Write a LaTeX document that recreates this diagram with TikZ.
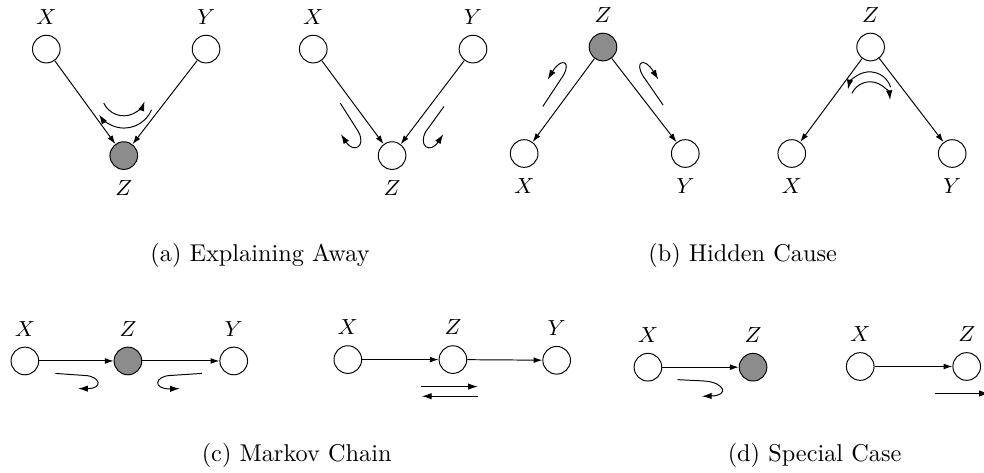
\documentclass[tikz,border=0pt]{standalone}
\usepackage{xcolor}
\usepackage{tikz}
\usetikzlibrary{arrows.meta}

\begin{document}
\begin{tikzpicture}[
    font=\small,
    label distance=0.7pt,
    nodo/.style={draw, circle, minimum size=4mm, inner sep=0pt},
    observado/.style={nodo, fill=black!45},
    flecha/.style={-{Latex[length=3.6pt, width=2.4pt]}},
    flujo/.style={-{Latex[length=4pt, width=2.6pt]}},
    titulo/.style={font=\normalsize}
  ]
  \useasboundingbox (0,0) rectangle (14.23,6.83);
  \clip (0,0) rectangle (14.23,6.83);

  % --- (a) Z observado ---
  \node[nodo, label=above:$X$] (xa) at (0.67,6.12) {};
  \node[nodo, label=above:$Y$] (ya) at (2.98,6.12) {};
  \node[observado, label=below:$Z$] (za) at (1.79,4.58) {};
  \draw[flecha] (xa) -- (za);
  \draw[flecha] (ya) -- (za);
  \draw[flujo] (1.50,5.34) arc[start angle=205, end angle=340, radius=0.32];
  \draw[flujo] (2.19,5.24) arc[start angle=337, end angle=213, radius=0.43];

  % --- (a) Z sin observar ---
  \node[nodo, label=above:$X$] (xb) at (4.53,6.12) {};
  \node[nodo, label=above:$Y$] (yb) at (6.84,6.12) {};
  \node[nodo, label=below:$Z$] (zb) at (5.67,4.58) {};
  \draw[flecha] (xb) -- (zb);
  \draw[flecha] (yb) -- (zb);
  \draw[flujo] (4.92,5.34) -- (5.18,4.93)
        .. controls (5.30,4.72) and (5.12,4.60) .. (4.93,4.89);
  \draw[flujo] (6.42,5.29) -- (6.16,4.93)
        .. controls (6.04,4.72) and (6.22,4.60) .. (6.41,4.89);

  % --- (b) Z observado ---
  \node[observado, label=above:$Z$] (zc) at (8.72,6.15) {};
  \node[nodo, label=below:$X$] (xc) at (7.58,4.61) {};
  \node[nodo, label=below:$Y$] (yc) at (9.91,4.61) {};
  \draw[flecha] (zc) -- (xc);
  \draw[flecha] (zc) -- (yc);
  \draw[flujo] (7.85,5.29) -- (8.14,5.73)
        .. controls (8.27,5.94) and (8.12,6.01) .. (7.92,5.68);
  \draw[flujo] (9.59,5.31) -- (9.30,5.73)
        .. controls (9.17,5.94) and (9.32,6.01) .. (9.52,5.68);

  % --- (b) Z sin observar ---
  \node[nodo, label=above:$Z$] (zd) at (12.59,6.15) {};
  \node[nodo, label=below:$X$] (xd) at (11.45,4.61) {};
  \node[nodo, label=below:$Y$] (yd) at (13.77,4.61) {};
  \draw[flecha] (zd) -- (xd);
  \draw[flecha] (zd) -- (yd);
  \draw[flujo] (12.88,5.57) arc[start angle=18, end angle=168, radius=0.32];
  \draw[flujo] (12.32,5.48) arc[start angle=155, end angle=5, radius=0.29];

  \node[titulo] (tita) at (3.76,3.14) {(a) Explaining Away};
  \node[titulo] (titb) at (10.74,3.14) {(b) Hidden Cause};

  % --- (c) cadena con Z observado ---
  \node[nodo, label=above:$X$] (xe) at (0.36,1.61) {};
  \node[observado, label=above:$Z$] (ze) at (1.85,1.61) {};
  \node[nodo, label=above:$Y$] (ye) at (3.38,1.61) {};
  \draw[flecha] (xe) -- (ze);
  \draw[flecha] (ze) -- (ye);
  \draw[flujo] (0.80,1.43) -- (1.23,1.40)
        .. controls (1.45,1.39) and (1.50,1.21) .. (1.13,1.21);
  \draw[flujo] (2.92,1.43) -- (2.46,1.40)
        .. controls (2.24,1.39) and (2.20,1.20) .. (2.60,1.21);

  % --- (c) cadena sin observar ---
  \node[nodo, label=above:$X$] (xf) at (5.03,1.63) {};
  \node[nodo, label=above:$Z$] (zf) at (6.55,1.63) {};
  \node[nodo, label=above:$Y$] (yf) at (8.05,1.62) {};
  \draw[flecha] (xf) -- (zf);
  \draw[flecha] (zf) -- (yf);
  \draw[flujo] (6.09,1.24) -- (6.91,1.24);
  \draw[flujo] (6.91,1.10) -- (6.10,1.10);

  % --- (d) caso especial ---
  \node[nodo, label=above:$X$] (xg) at (9.37,1.52) {};
  \node[observado, label=above:$Z$] (zg) at (10.89,1.52) {};
  \draw[flecha] (xg) -- (zg);
  \draw[flujo] (9.80,1.34) -- (10.19,1.32)
        .. controls (10.47,1.30) and (10.56,1.11) .. (10.15,1.10);

  \node[nodo, label=above:$X$] (xh) at (12.44,1.53) {};
  \node[nodo, label=above:$Z$] (zh) at (13.98,1.53) {};
  \draw[flecha] (xh) -- (zh);
  \draw[flujo] (13.52,1.14) -- (14.30,1.14);

  \node[titulo] (titc) at (4.29,0.25) {(c) Markov Chain};
  \node[titulo] (titd) at (11.78,0.25) {(d) Special Case};
\end{tikzpicture}
\end{document}
